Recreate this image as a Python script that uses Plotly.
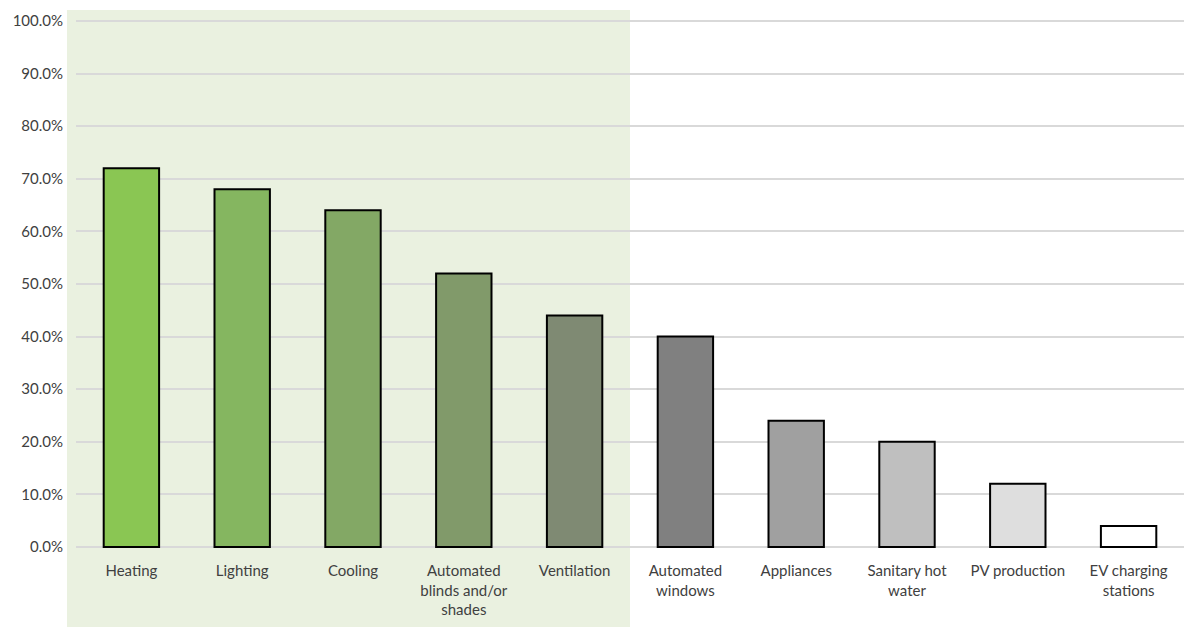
import plotly.graph_objects as go

# Share of respondents per smart-control application
categories = ["Heating", "Lighting", "Cooling", "Automated<br>blinds and/or<br>shades",
              "Ventilation", "Automated<br>windows", "Appliances", "Sanitary hot<br>water",
              "PV production", "EV charging<br>stations"]
values = [72, 68, 64, 52, 44, 40, 24, 20, 12, 4]
bar_colors = ["#8AC653", "#85B660", "#83A865", "#819A6A", "#7F8A73",
              "#808080", "#A0A0A0", "#BFBFBF", "#DEDEDE", "#FFFFFF"]
tick_values = [0, 10, 20, 30, 40, 50, 60, 70, 80, 90, 100]
tick_labels = [f"{v:.1f}%" for v in tick_values]

W, H = 1184, 627
ML, MR, MT, MB = 76, 0, 20, 79
pw, ph = W - ML - MR, H - MT - MB
Y0, Y1 = -0.2, 100.2

fig = go.Figure()
fig.add_trace(go.Bar(
    x=list(range(len(categories))),
    y=values,
    width=0.5,
    marker=dict(color=bar_colors, line=dict(color="#000000", width=2)),
    hoverinfo="y",
))

# Highlighted band behind the first five categories (extends past the plot area)
fig.add_shape(
    type="rect", layer="below", xref="paper", yref="paper",
    x0=(67 - ML) / pw, x1=0.5,
    y0=-(627 - (H - MB)) / ph, y1=1 + (MT - 10) / ph,
    fillcolor="#EAF1E0", line=dict(width=0),
)

fig.update_layout(
    width=W, height=H,
    margin=dict(l=ML, r=MR, t=MT, b=MB),
    paper_bgcolor="white", plot_bgcolor="rgba(0,0,0,0)",
    font=dict(family="Lato, 'Open Sans', sans-serif", size=15, color="#404040"),
    showlegend=False,
)
fig.update_xaxes(
    range=[-0.5, len(categories) - 0.5],
    tickvals=list(range(len(categories))), ticktext=categories,
    showgrid=False, zeroline=False, showline=False, ticks="",
    ticklabelstandoff=12,
    tickfont=dict(size=15, color="#404040"),
)
fig.update_yaxes(
    range=[Y0, Y1],
    tickvals=tick_values, ticktext=tick_labels,
    showgrid=True, gridcolor="#D9D9D9", gridwidth=1.5,
    zeroline=False, showline=False, ticks="",
    ticklabelstandoff=12,
    tickfont=dict(size=15, color="#404040"),
)

fig.write_html("out.html")
